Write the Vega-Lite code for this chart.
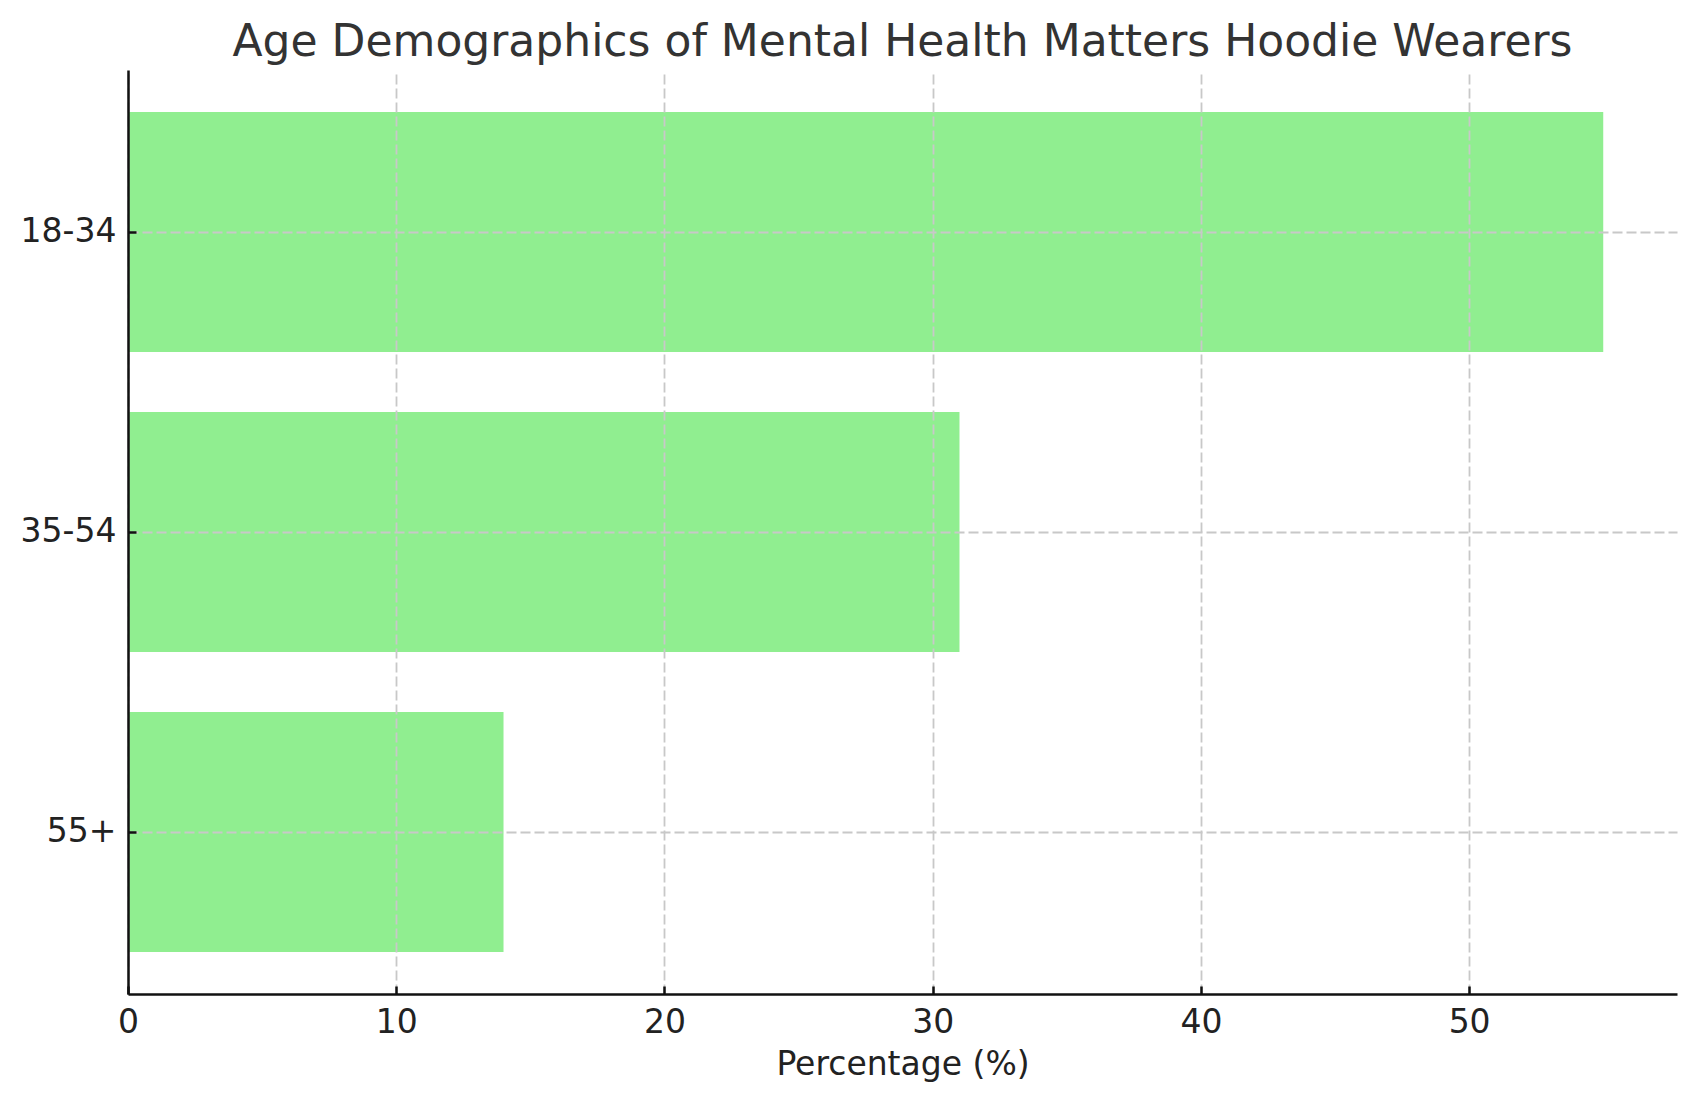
{
  "$schema": "https://vega.github.io/schema/vega-lite/v6.json",
  "autosize": "none",
  "width": 1549,
  "height": 924,
  "padding": {"left": 128, "top": 70, "right": 19, "bottom": 107},
  "background": "white",
  "title": {
    "text": "Age Demographics of Mental Health Matters Hoodie Wearers",
    "font": "DejaVu Sans",
    "fontSize": 44,
    "fontWeight": "normal",
    "color": "#333333",
    "anchor": "middle",
    "baseline": "alphabetic",
    "offset": -30
  },
  "config": {
    "view": {"stroke": null},
    "font": "DejaVu Sans"
  },
  "data": {
    "values": [
      {"age": "18-34", "pct": 55},
      {"age": "35-54", "pct": 31},
      {"age": "55+", "pct": 14}
    ]
  },
  "mark": {"type": "bar", "color": "#90EE90"},
  "encoding": {
    "y": {
      "field": "age",
      "type": "nominal",
      "sort": null,
      "scale": {"paddingInner": 0.2, "paddingOuter": 0.14},
      "axis": {
        "title": null,
        "zindex": 1,
        "grid": true,
        "gridColor": "#c8c8c8",
        "gridDash": [10, 4],
        "gridWidth": 1.8,
        "domainColor": "#111111",
        "domainWidth": 2.5,
        "tickColor": "#111111",
        "tickWidth": 2.5,
        "tickSize": -8,
        "labelPadding": 20,
        "labelFont": "DejaVu Sans",
        "labelFontSize": 33,
        "labelColor": "#222222"
      }
    },
    "x": {
      "field": "pct",
      "type": "quantitative",
      "scale": {"domain": [0, 57.75], "nice": false, "zero": true},
      "axis": {
        "values": [0, 10, 20, 30, 40, 50],
        "title": "Percentage (%)",
        "titleFont": "DejaVu Sans",
        "titleFontSize": 33,
        "titleFontWeight": "normal",
        "titleColor": "#222222",
        "titleBaseline": "alphabetic",
        "titleY": 80,
        "zindex": 1,
        "grid": true,
        "gridColor": "#c8c8c8",
        "gridDash": [10, 4],
        "gridWidth": 1.8,
        "domainColor": "#111111",
        "domainWidth": 2.5,
        "tickColor": "#111111",
        "tickWidth": 2.5,
        "tickSize": -8,
        "labelPadding": 20,
        "labelFont": "DejaVu Sans",
        "labelFontSize": 33,
        "labelColor": "#222222",
        "labelFlush": false,
        "labelBaseline": "top"
      }
    }
  }
}
